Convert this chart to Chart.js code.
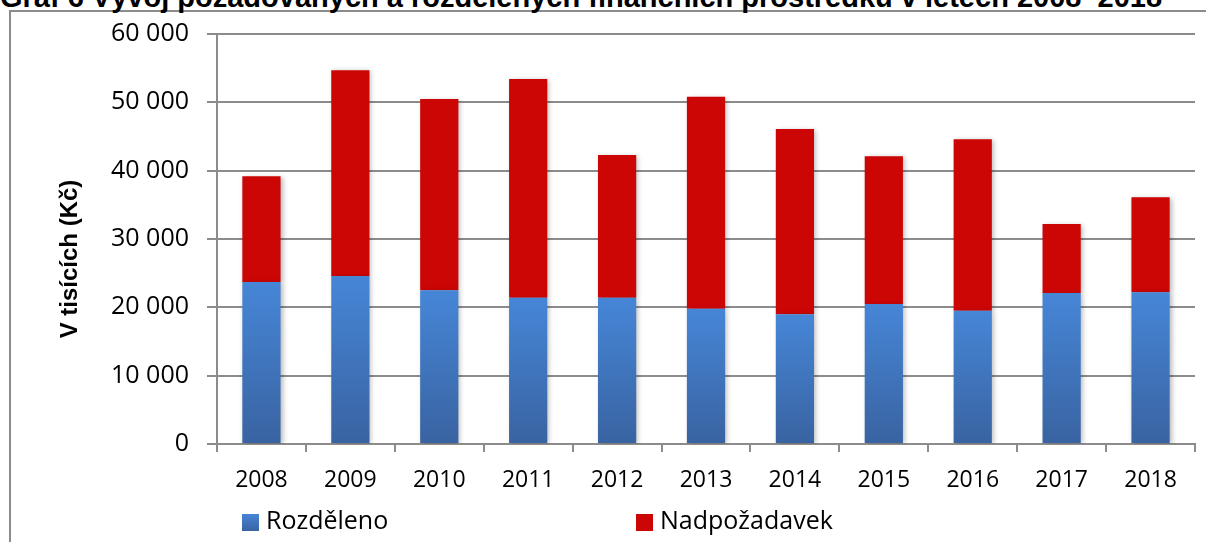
<!DOCTYPE html>
<html lang="cs">
<head>
<meta charset="utf-8">
<script src="https://cdn.jsdelivr.net/npm/chart.js@4/dist/chart.umd.min.js"></script>
<style>
  html, body { margin: 0; padding: 0; background: #fff; }
  #wrap { position: relative; width: 1206px; height: 542px; overflow: hidden; }
  #frame { position: absolute; left: 9px; top: 10px; width: 1300px; height: 700px;
           border-left: 2px solid #8c8c8c; border-top: 2px solid #8c8c8c; }
  #title { position: absolute; left: 0; top: -19px; white-space: nowrap;
           font: bold 29px "Liberation Sans", Arial, sans-serif; color: #000; }
  #chartBox { position: absolute; left: 0; top: 0; width: 1206px; height: 542px; }
</style>
</head>
<body>
<div id="wrap">
  <div id="frame"></div>
  <div id="title">Graf 6 Vývoj požadovaných a rozdělených finančních prostředků v letech 2008–2018</div>
  <div id="chartBox"><canvas id="chartFunds"></canvas></div>
</div>
<script>
// data (v tisících Kč)
const YEARS = ['2008', '2009', '2010', '2011', '2012', '2013', '2014', '2015', '2016', '2017', '2018'];
const ROZDELENO = [23700, 24600, 22500, 21400, 21400, 19800, 19000, 20500, 19500, 22100, 22200];
const NADPOZADAVEK = [15500, 30100, 28000, 32000, 20900, 31000, 27100, 21600, 25100, 10100, 13900];
const Y_MAX = 60000;
const Y_STEP = 10000;
const SERIES_LABELS = ['Rozděleno', 'Nadpožadavek'];
const Y_TITLE = 'V tisících (Kč)';

const GRID = '#8c8c8c';
const RED = '#cc0505';
const SANS = '"Open Sans", "Noto Sans", sans-serif';

function fmt(v) {
  return String(v).replace(/\B(?=(\d{3})+(?!\d))/g, ' ');
}

// svislý přechod modré, světlejší nahoře
function blueGradient(ctx, top, bottom) {
  const g = ctx.createLinearGradient(0, top, 0, bottom);
  g.addColorStop(0, '#4686d7');
  g.addColorStop(1, '#3963a1');
  return g;
}

function blueFill(context) {
  const chart = context.chart;
  if (!chart.chartArea || context.raw == null) return '#4178c0';
  const y = chart.scales.y;
  return blueGradient(chart.ctx, y.getPixelForValue(context.raw), y.getPixelForValue(0));
}

const barShadow = {
  id: 'barShadow',
  beforeDatasetsDraw(chart) {
    const ctx = chart.ctx;
    ctx.save();
    ctx.shadowColor = 'rgba(0,0,0,0.28)';
    ctx.shadowBlur = 5;
    ctx.shadowOffsetX = 2;
    ctx.shadowOffsetY = 1;
  },
  afterDatasetsDraw(chart) {
    chart.ctx.restore();
  }
};

// popisek osy y – v originále je trochu pod středem osy
const yTitle = {
  id: 'yTitle',
  afterDraw(chart) {
    const ctx = chart.ctx;
    ctx.save();
    ctx.translate(70, 259);
    ctx.rotate(-Math.PI / 2);
    ctx.font = 'bold 24px "Liberation Sans", Arial, sans-serif';
    ctx.fillStyle = '#000';
    ctx.textAlign = 'center';
    ctx.textBaseline = 'middle';
    ctx.fillText(Y_TITLE, 0, 0);
    ctx.restore();
  }
};

// legenda dole, jako v Excelu
const bottomLegend = {
  id: 'bottomLegend',
  afterDraw(chart) {
    const ctx = chart.ctx;
    const items = [
      { x: 242, fill: blueGradient(ctx, 514, 531) },
      { x: 636, fill: RED }
    ];
    ctx.save();
    ctx.font = '25px ' + SANS;
    ctx.textBaseline = 'middle';
    items.forEach((it, i) => {
      ctx.fillStyle = it.fill;
      ctx.fillRect(it.x, 514, 17, 17);
      ctx.fillStyle = '#000';
      ctx.fillText(chart.data.datasets[i].label, it.x + 24, 522);
    });
    ctx.restore();
  }
};

new Chart(document.getElementById('chartFunds'), {
  type: 'bar',
  data: {
    labels: YEARS,
    datasets: [
      {
        label: SERIES_LABELS[0],
        data: ROZDELENO,
        backgroundColor: blueFill,
        borderWidth: 0,
        barPercentage: 0.43,
        categoryPercentage: 1
      },
      {
        label: SERIES_LABELS[1],
        data: NADPOZADAVEK,
        backgroundColor: RED,
        borderWidth: 0,
        barPercentage: 0.43,
        categoryPercentage: 1
      }
    ]
  },
  options: {
    responsive: true,
    maintainAspectRatio: false,
    animation: false,
    layout: { padding: { left: 0, right: 11, top: 34, bottom: 0 } },
    scales: {
      x: {
        stacked: true,
        afterFit(scale) { scale.height = 98; },
        grid: {
          offset: true,
          drawOnChartArea: false,
          drawTicks: true,
          tickLength: 8,
          color: GRID,
          lineWidth: 2
        },
        border: { display: true, color: GRID, width: 2 },
        ticks: { color: '#000', font: { family: SANS, size: 23 }, padding: 15, maxRotation: 0 }
      },
      y: {
        stacked: true,
        min: 0,
        max: Y_MAX,
        afterFit(scale) { scale.width = 217; },
        grid: { color: GRID, lineWidth: 2, tickLength: 10 },
        border: { display: true, color: GRID, width: 2 },
        ticks: {
          stepSize: Y_STEP,
          color: '#000',
          font: { family: SANS, size: 25 },
          padding: 18,
          callback: v => fmt(v)
        }
      }
    },
    plugins: {
      legend: { display: false },
      tooltip: { enabled: false }
    }
  },
  plugins: [barShadow, yTitle, bottomLegend]
});
</script>
</body>
</html>
